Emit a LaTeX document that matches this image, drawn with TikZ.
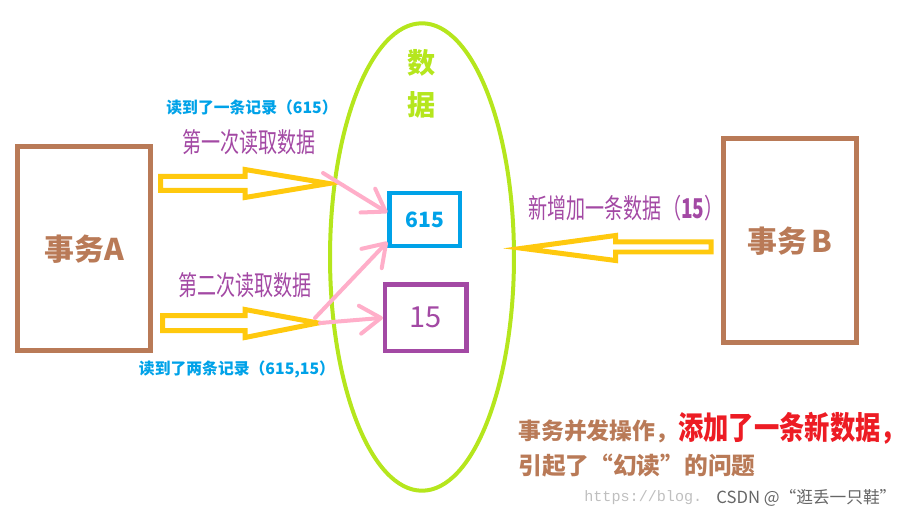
\documentclass[tikz,border=0pt]{standalone}
\usepackage{fontspec}
\usetikzlibrary{shapes.geometric,arrows.meta,calc}

\newfontfamily\cjk{Noto Sans CJK SC}
\newfontfamily\cjknarrow{Noto Sans CJK SC}[FakeStretch=0.8]
\newfontfamily\cjkslim{Noto Sans CJK SC}[FakeStretch=0.7]
\newfontfamily\wmfont{Liberation Mono}

\definecolor{brownT}{HTML}{B97A57}
\definecolor{yellowT}{HTML}{FFC90E}
\definecolor{pinkT}{HTML}{FFAEC9}
\definecolor{cyanT}{HTML}{00A2E8}
\definecolor{purpleT}{HTML}{A349A4}
\definecolor{limeT}{HTML}{B5E61D}
\definecolor{redT}{HTML}{ED1C24}

\begin{document}
\begin{tikzpicture}[x=0.02cm,y=-0.02cm,
	txbox/.style={draw=brownT,line width=0.1cm,minimum width=2.66cm,minimum height=4.09cm,inner sep=0pt,
		text=brownT,font=\cjk\bfseries\fontsize{17pt}{20pt}\selectfont},
	rowbox/.style={line width=0.085cm,inner sep=0pt},
	blockarrow/.style={draw=yellowT,line width=0.1cm,line join=miter},
	readarrow/.style={draw=pinkT,line width=0.08cm,line cap=round,
		-{Straight Barb[length=0.42cm,width=0.56cm,round]}},
	readlabel/.style={text=cyanT,font=\cjk\bfseries\fontsize{9pt}{11pt}\selectfont,inner sep=0pt},
	steplabel/.style={text=purpleT,font=\cjkslim\fontsize{15.5pt}{18pt}\selectfont,inner sep=0pt}]
	
	\useasboundingbox (0,0) rectangle (916,520);
	
	% the data set
	\node[ellipse,draw=limeT,line width=0.08cm,minimum width=3.68cm,minimum height=9.35cm] (data) at (422,257) {};
	\node[text=limeT,font=\cjk\bfseries\fontsize{16pt}{24pt}\selectfont,align=center,inner sep=0pt] (datalabel) at (422,84) {数\\据};
	
	% the two transactions
	\node[txbox] (transA) at (84,248.7) {事务A};
	\node[txbox] (transB) at (789.8,240.7) {事务\hspace{2pt}B};
	
	% the rows
	\node[rowbox,draw=cyanT,minimum width=1.41cm,minimum height=1.06cm,text=cyanT,
		font=\cjk\bfseries\fontsize{12pt}{14pt}\selectfont] (row615) at (424.8,219.5) {615};
	\node[rowbox,draw=purpleT,minimum width=1.63cm,minimum height=1.33cm,text=purpleT,
		font=\cjk\fontsize{16.5pt}{18pt}\selectfont] (row15) at (425.8,317.8) {15};
	
	% first and second read of A
	\draw[blockarrow] (160.5,176.5) -- (245,176.5) -- (245,169.5) -- (329,183.5) -- (245,197.5) -- (245,190.5) -- (160.5,190.5) -- cycle;
	\draw[blockarrow] (162.5,315.5) -- (245,315.5) -- (245,309.5) -- (318,323) -- (245,337.5) -- (245,330.5) -- (162.5,330.5) -- cycle;
	% insert of B
	\draw[blockarrow] (711,242) -- (615.5,242) -- (615.5,235.5) -- (522,248.3) -- (615.5,260.5) -- (615.5,252) -- (711,252) -- cycle;
	
	\coordinate (read1) at (323,173);
	\coordinate (read2a) at (315,318);
	\coordinate (read2b) at (320,323);
	\draw[readarrow] (read1) -- ($(row615.north west)!0.38!(row615.south west)$);
	\draw[readarrow] (read2a) -- ($(row615.north west)!0.89!(row615.south west)$);
	\draw[readarrow] (read2b) -- (row15.west);
	
	\node[readlabel] (found1) at (252,107) {读到了一条记录（615）};
	\node[steplabel] (step1) at (249,142) {第一次读取数据};
	\node[steplabel] (step2) at (245,285) {第二次读取数据};
	\node[readlabel] (found2) at (237,369) {读到了两条记录（615,15）};
	\node[steplabel] (insertB) at (626,208) {新增加一条数据（\textbf{15}）};
	
	% the conclusion
	\node[anchor=west,inner sep=0pt] (note1) at (518,428)
		{{\cjk\bfseries\fontsize{13pt}{15pt}\selectfont\color{brownT}事务并发操作，}{\cjknarrow\bfseries\fontsize{18pt}{20pt}\selectfont\color{redT}添加了一条新数据，}};
	\node[anchor=west,inner sep=0pt,text=brownT,font=\cjk\bfseries\fontsize{13.5pt}{15pt}\selectfont] (note2) at (518,466) {引起了“幻读”的问题};
	
	%\draw[help lines] (0,0) grid[step=50] (916,520);
	\node[anchor=west,inner sep=0pt,text=black!25,font=\wmfont\fontsize{8.6pt}{10pt}\selectfont] (wmurl) at (584,498) {https://blog.};
	\node[anchor=west,inner sep=0pt,text=black!60,font=\cjk\fontsize{9.5pt}{11pt}\selectfont] (wmname) at (716,498) {CSDN @“逛丢一只鞋”};
\end{tikzpicture}
\end{document}
